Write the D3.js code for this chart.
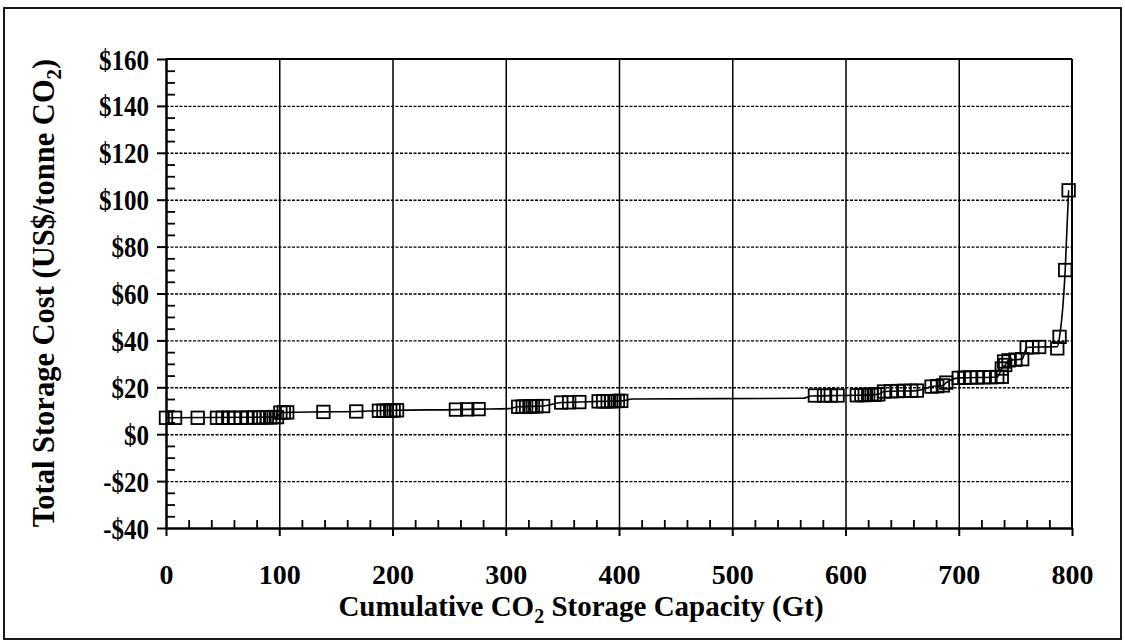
<!DOCTYPE html>
<html>
<head>
<meta charset="utf-8">
<script src="https://cdn.jsdelivr.net/npm/d3@7"></script>
<style>
  html, body { margin: 0; padding: 0; background: #fff; }
  svg { display: block; }
  text { font-family: "Liberation Serif", "Times New Roman", serif; font-weight: bold; fill: #000; }
</style>
</head>
<body>
<svg id="chart" width="1125" height="644"></svg>
<script>
// ---- data ----
const xTickValues = [0, 100, 200, 300, 400, 500, 600, 700, 800];
const yTickValues = [-40, -20, 0, 20, 40, 60, 80, 100, 120, 140, 160];

// marker points: cumulative capacity (Gt) and cost (US$/t)
const markerCap = [0, 8, 28, 45, 50, 55, 60, 66, 72, 78, 82, 86, 89, 92, 95, 98,
  101, 104, 107, 139, 168,
  188, 192, 195, 198, 201, 204,
  256, 266, 276,
  311, 315, 318, 321, 324, 327, 333,
  349, 356, 365,
  382, 386, 390, 393, 396, 399, 402,
  573, 581, 587, 593,
  610, 614, 617, 620, 623, 626, 629,
  634, 640, 646, 652, 658, 663,
  676, 681, 686, 689,
  700, 705, 710, 716, 722, 728, 734, 738,
  738, 741, 740, 744, 750, 756,
  760, 765, 771,
  787, 789, 794, 797];
const markerCost = [7, 7, 7, 7, 7, 7, 7, 7, 7.1, 7.1, 7.1, 7.2, 7.2, 7.2, 7.3, 7.3,
  9.2, 9.3, 9.3, 9.5, 9.7,
  10, 10, 10, 10.1, 10.1, 10.2,
  10.5, 10.6, 10.7,
  11.7, 11.8, 11.8, 11.8, 11.9, 11.9, 12,
  13.5, 13.6, 13.7,
  14, 14, 14, 14.1, 14.1, 14.2, 14.2,
  16.5, 16.5, 16.5, 16.5,
  16.6, 16.7, 16.7, 16.8, 16.8, 16.9, 17,
  18.2, 18.3, 18.4, 18.5, 18.5, 18.6,
  20.3, 20.5, 20.8, 22,
  24, 24.1, 24.2, 24.2, 24.3, 24.3, 24.4, 24.5,
  28, 29.5, 31, 31.5, 31.8, 32,
  37, 37.1, 37.2,
  36.6, 41.5, 70, 104];

// supply-curve line vertices
const lineCap = [0, 98, 101, 107, 139, 168, 188, 204, 256, 276, 302, 311, 333, 349, 365, 382, 402,
  412, 562, 570, 593, 610, 629, 634, 663, 676, 686, 689, 700, 734, 738, 741, 744, 756,
  760, 771, 787, 789, 794, 797];
const lineCost = [7, 7.3, 9.2, 9.3, 9.5, 9.7, 10, 10.2, 10.5, 10.7, 10.9, 11.7, 12, 13.5, 13.7, 14, 14.2,
  15, 15.3, 16.3, 16.5, 16.6, 17, 18.2, 18.6, 20.3, 20.8, 22, 24, 24.4, 28, 29.5, 31.5, 32,
  37, 37.2, 37.3, 41.5, 70, 104];

// ---- layout ----
const svg = d3.select("#chart");
const L = 166, R = 1072, T = 59, B = 528;
const x = d3.scaleLinear().domain([0, 800]).range([L, R]);
const y = d3.scaleLinear().domain([-40, 160]).range([B, T]);

// outer frame
svg.append("rect").attr("x", 4).attr("y", 8).attr("width", 1117).attr("height", 631)
  .attr("fill", "none").attr("stroke", "#000").attr("stroke-width", 1.8);

// horizontal dashed gridlines
svg.append("g").attr("transform", `translate(${L},0)`)
  .call(d3.axisLeft(y).tickValues(yTickValues.slice(1, -1)).tickSize(-(R - L)).tickFormat(""))
  .call(g => g.select(".domain").remove())
  .call(g => g.selectAll("line").attr("stroke", "#000").attr("stroke-width", 1.4).attr("stroke-dasharray", "3,1.5"));

// vertical solid gridlines
svg.append("g").attr("transform", `translate(0,${B})`)
  .call(d3.axisBottom(x).tickValues(xTickValues.slice(1, -1)).tickSize(-(B - T)).tickFormat(""))
  .call(g => g.select(".domain").remove())
  .call(g => g.selectAll("line").attr("stroke", "#000").attr("stroke-width", 1.5));

// top & right plot borders
svg.append("line").attr("x1", L).attr("x2", R).attr("y1", T).attr("y2", T).attr("stroke", "#000").attr("stroke-width", 2);
svg.append("line").attr("x1", R).attr("x2", R).attr("y1", T).attr("y2", B).attr("stroke", "#000").attr("stroke-width", 2);

// minor ticks (inside)
const yMinor = d3.range(-40, 160.1, 5).filter(v => v % 20 !== 0);
const xMinor = d3.range(0, 800.1, 20).filter(v => v % 100 !== 0);
svg.append("g").attr("transform", `translate(${L},0)`)
  .call(d3.axisRight(y).tickValues(yMinor).tickSize(9).tickFormat(""))
  .call(g => g.select(".domain").remove())
  .call(g => g.selectAll("line").attr("stroke", "#000").attr("stroke-width", 1.8));
svg.append("g").attr("transform", `translate(0,${B})`)
  .call(d3.axisTop(x).tickValues(xMinor).tickSize(8).tickFormat(""))
  .call(g => g.select(".domain").remove())
  .call(g => g.selectAll("line").attr("stroke", "#000").attr("stroke-width", 1.8));

// main axes with major ticks
const fmt = v => (v < 0 ? "-$" + Math.abs(v) : "$" + v);
const yAxis = svg.append("g").attr("transform", `translate(${L},0)`)
  .call(d3.axisLeft(y).tickValues(yTickValues).tickSize(9).tickSizeOuter(0).tickPadding(8).tickFormat(fmt));
yAxis.select(".domain").attr("stroke", "#000").attr("stroke-width", 2.5);
yAxis.selectAll("line").attr("stroke", "#000").attr("stroke-width", 2);
yAxis.selectAll("text").style("font-size", "25px").style("font-family", "'Liberation Serif', serif").style("font-weight", "bold")
  .attr("dy", "0.35em").attr("transform", "scale(1,1.15)")
  .each(function () { const t = d3.select(this); t.attr("y", (+t.attr("y") || 0) / 1.15); });

const xAxis = svg.append("g").attr("transform", `translate(0,${B})`)
  .call(d3.axisBottom(x).tickValues(xTickValues).tickSize(8).tickSizeOuter(0).tickPadding(40).tickFormat(d3.format("d")));
xAxis.select(".domain").attr("stroke", "#000").attr("stroke-width", 2.5);
xAxis.selectAll("line").attr("stroke", "#000").attr("stroke-width", 2);
xAxis.selectAll("text").style("font-size", "28px").style("font-family", "'Liberation Serif', serif").style("font-weight", "bold").attr("dy", "0.3em");

// line
const pts = lineCap.map((c, i) => [c, lineCost[i]]);
svg.append("path").datum(pts)
  .attr("d", d3.line().x(d => x(d[0])).y(d => y(d[1])).curve(d3.curveMonotoneX))
  .attr("fill", "none").attr("stroke", "#000").attr("stroke-width", 1.6);

// markers
const mk = markerCap.map((c, i) => [c, markerCost[i]]);
const S = 12.5;
svg.append("g").selectAll("rect").data(mk).join("rect")
  .attr("x", d => x(d[0]) - S / 2).attr("y", d => y(d[1]) - S / 2)
  .attr("width", S).attr("height", S)
  .attr("fill", "none").attr("stroke", "#000").attr("stroke-width", 1.8);

// axis titles
const xt = svg.append("text").attr("x", 581).attr("y", 616).attr("text-anchor", "middle").style("font-size", "29px");
xt.append("tspan").text("Cumulative CO");
xt.append("tspan").text("2").attr("dy", 7).style("font-size", "20px");
xt.append("tspan").text(" Storage Capacity (Gt)").attr("dy", -7);

const yt = svg.append("text").attr("transform", `translate(54,${293}) rotate(-90)`).attr("text-anchor", "middle").style("font-size", "30.5px");
yt.append("tspan").text("Total Storage Cost (US$/tonne CO");
yt.append("tspan").text("2").attr("dy", 7).style("font-size", "21px");
yt.append("tspan").text(")").attr("dy", -7);
</script>
</body>
</html>
